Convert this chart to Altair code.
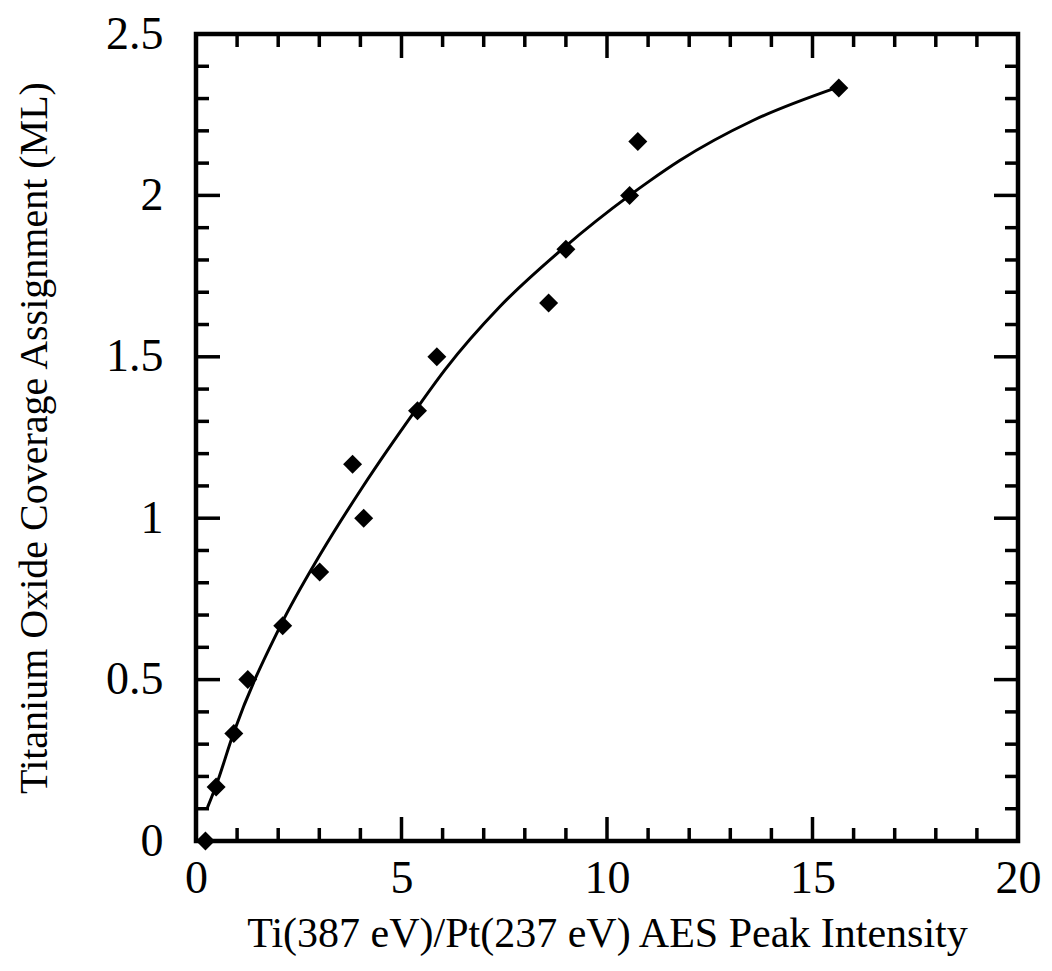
import altair as alt
import pandas as pd

# Measured points (diamonds)
pt_x = [0.23, 0.49, 0.92, 1.26, 2.11, 3.01, 3.81, 4.08, 5.39, 5.86, 8.58, 9.00, 10.55, 10.75, 15.64]
pt_y = [0.0, 0.167, 0.333, 0.5, 0.667, 0.833, 1.167, 1.0, 1.333, 1.5, 1.667, 1.833, 2.0, 2.167, 2.333]

# Fitted curve
cv_x = [0.28, 0.49, 0.91, 2.06, 3.01, 4.05, 5.36, 6.07, 7.39, 8.97, 10.55, 11.04, 11.77, 13.55, 15.57]
cv_y = [0.104, 0.172, 0.333, 0.668, 0.885, 1.096, 1.338, 1.462, 1.655, 1.840, 2.000, 2.045, 2.108, 2.232, 2.333]

# Tick values
x_labels = [0, 5, 10, 15, 20]
y_labels = [0, 0.5, 1, 1.5, 2, 2.5]
x_major = [5, 10, 15]
x_minor = [1, 2, 3, 4, 6, 7, 8, 9, 11, 12, 13, 14, 16, 17, 18, 19]
y_major = [0.5, 1.0, 1.5, 2.0]
y_minor = [0.1, 0.2, 0.3, 0.4, 0.6, 0.7, 0.8, 0.9, 1.1, 1.2, 1.3, 1.4,
           1.6, 1.7, 1.8, 1.9, 2.1, 2.2, 2.3, 2.4]

W, H = 822, 807
MAJ, MIN = 24, 13
FONT = "Liberation Serif"

xscale = alt.Scale(domain=[0, 20], nice=False, zero=False)
yscale = alt.Scale(domain=[0, 2.5], nice=False, zero=False)

xaxis = alt.Axis(values=x_labels, title="Ti(387 eV)/Pt(237 eV) AES Peak Intensity",
                 domain=False, ticks=False, grid=False, labelFont=FONT, labelFontSize=46,
                 labelColor="black", labelPadding=15, titleFont=FONT, titleFontSize=42,
                 titleFontWeight="normal", titleColor="black", titlePadding=12,
                 labelFlush=False, labelOverlap=False)
yaxis = alt.Axis(values=y_labels, title="Titanium Oxide Coverage Assignment (ML)",
                 domain=False, ticks=False, grid=False, labelFont=FONT, labelFontSize=46,
                 labelColor="black", labelPadding=33, titleFont=FONT, titleFontSize=40,
                 titleFontWeight="normal", titleColor="black", titlePadding=51,
                 labelFlush=False, labelOverlap=False,
                 format="~g")

X = lambda: alt.X("x:Q", scale=xscale, axis=xaxis)
Y = lambda: alt.Y("y:Q", scale=yscale, axis=yaxis)

pts = pd.DataFrame({"x": pt_x, "y": pt_y})
cv = pd.DataFrame({"x": cv_x, "y": cv_y})

line = alt.Chart(cv).mark_line(color="black", strokeWidth=3, interpolate="monotone").encode(
    x=X(), y=Y())
points = alt.Chart(pts).mark_point(shape="diamond", filled=True, color="black", size=360, opacity=1).encode(
    x=X(), y=Y())

def xticks(vals, length):
    df = pd.DataFrame({"x": vals})
    b = alt.Chart(df).mark_rule(color="black", strokeWidth=3.5).encode(
        x=X(), y=alt.value(H), y2=alt.value(H - length))
    t = alt.Chart(df).mark_rule(color="black", strokeWidth=3.5).encode(
        x=X(), y=alt.value(0), y2=alt.value(length))
    return [b, t]

def yticks(vals, length):
    df = pd.DataFrame({"y": vals})
    l = alt.Chart(df).mark_rule(color="black", strokeWidth=3.5).encode(
        y=Y(), x=alt.value(0), x2=alt.value(length))
    r = alt.Chart(df).mark_rule(color="black", strokeWidth=3.5).encode(
        y=Y(), x=alt.value(W), x2=alt.value(W - length))
    return [l, r]

layers = [line, points] + xticks(x_major, MAJ) + xticks(x_minor, MIN) + yticks(y_major, MAJ) + yticks(y_minor, MIN)

chart = alt.layer(*layers).properties(
    width=W, height=H,
    autosize=alt.AutoSizeParams(type="none"),
    padding={"left": 188, "top": 26, "right": 26, "bottom": 120},
    background="white",
).configure_view(stroke="black", strokeWidth=4.5)

chart.save("out.html", embed_options={"renderer": "svg", "actions": False})
